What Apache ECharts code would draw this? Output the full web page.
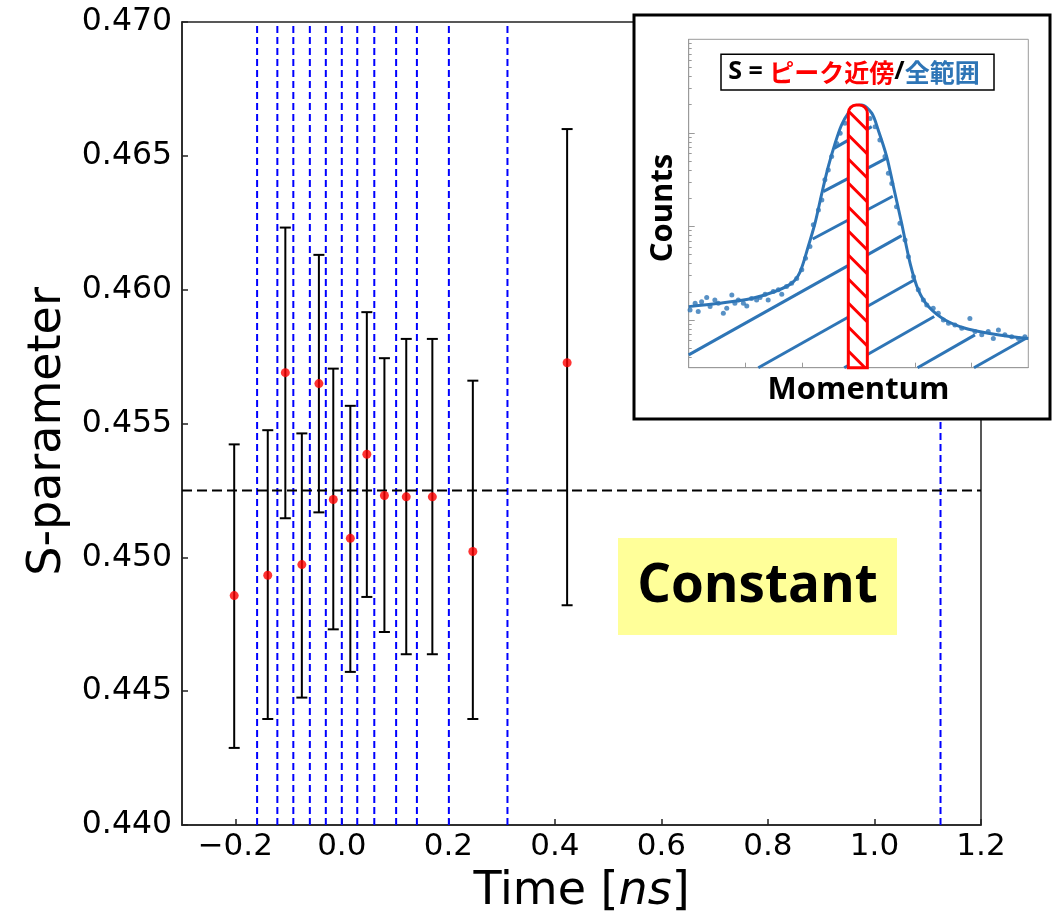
<!DOCTYPE html>
<html><head><meta charset="utf-8">
<script src="https://cdn.jsdelivr.net/npm/echarts@6/dist/echarts.min.js"></script>
<style>html,body{margin:0;padding:0;background:#fff}#c{width:1053px;height:920px}</style>
</head><body><div id="c"></div>
<script>
// ---------------- main plot data ----------------
const times   = [-0.202, -0.139, -0.106, -0.075, -0.043, -0.016, 0.016, 0.047, 0.080, 0.121, 0.170, 0.246, 0.423];
const sValues = [0.44857, 0.44933, 0.45690, 0.44973, 0.45649, 0.45216, 0.45071, 0.45385, 0.45231, 0.45226, 0.45226, 0.45022, 0.45727];
const sUpper  = [0.45422, 0.45475, 0.46232, 0.45463, 0.46130, 0.45705, 0.45566, 0.45916, 0.45744, 0.45816, 0.45816, 0.45660, 0.46600];
const sLower  = [0.44288, 0.44396, 0.45146, 0.44476, 0.45168, 0.44731, 0.44572, 0.44852, 0.44721, 0.44638, 0.44638, 0.44396, 0.44821];
const binEdges = [-0.159, -0.121, -0.091, -0.060, -0.030, 0.000, 0.029, 0.061, 0.102, 0.141, 0.201, 0.311, 1.124];
const meanS = 0.4525;
const xRange = [-0.3, 1.2];
const yRange = [0.44, 0.47];
const xTickValues = [-0.2, 0.0, 0.2, 0.4, 0.6, 0.8, 1.0, 1.2];

// ---------------- inset data (arbitrary units 0..100) ----------------
const curveX = [0, 8.7, 18.5, 25.4, 30.3, 32.8, 35.2, 37.2, 39.2, 41.1, 43.1, 45.0, 47.0, 49.0, 50.9, 53.9, 55.8, 58.3, 60.3, 62.7, 65.2, 67.6, 70.6, 75.5, 81.4, 88.2, 95.1, 100];
const curveY = [18.6, 19.6, 21.1, 23.2, 25.7, 29.2, 36.9, 44.0, 53.1, 61.2, 68.3, 73.9, 77.5, 79.5, 80.0, 77.5, 72.4, 64.3, 55.1, 44.0, 31.8, 23.7, 18.6, 14.5, 12.0, 10.5, 9.4, 8.9];
const dotsX = [0.4, 1.9, 2.8, 3.8, 5.3, 6.3, 7.7, 8.7, 10.2, 11.2, 12.7, 13.6, 14.6, 16.1, 17.1, 18.5, 20.0, 21.0, 22.5, 23.4, 24.9, 26.4, 27.4, 28.8, 30.3, 31.8,
               33.3, 34.4, 35.7, 36.7, 38.2, 39.2, 40.1, 41.1, 42.1, 43.6, 44.6, 46.0, 47.5,
               53.4, 54.9, 56.3, 57.8, 58.8, 59.8, 61.2, 62.2, 63.7, 64.7, 66.2, 67.6, 69.1, 70.1, 72.0, 73.5, 75.0, 76.5, 78.4, 80.4, 82.8, 84.3, 86.3, 88.2, 89.7, 91.2, 93.1, 95.1, 97.1, 99.0];
const dotsY = [17.6, 19.6, 17.1, 20.1, 21.4, 18.6, 20.6, 19.6, 16.6, 18.1, 22.1, 19.6, 20.6, 19.6, 18.8, 21.1, 20.6, 21.4, 22.4, 20.6, 23.2, 23.7, 22.4, 24.7, 25.7, 27.2,
               29.8, 33.3, 36.9, 43.5, 48.0, 51.1, 57.2, 60.2, 64.3, 68.3, 71.4, 74.4, 77.0,
               75.9, 73.4, 69.3, 64.3, 59.2, 56.1, 49.0, 44.0, 38.9, 33.8, 27.7, 23.7, 20.6, 19.1, 18.1, 16.6, 14.5, 13.5, 13.0, 12.0, 15.0, 11.0, 10.0, 11.0, 8.9, 11.5, 10.0, 9.4, 8.9, 9.4];
const hatchStartX = [42.8, 39.6, 36.5, 0.0, 20.5, 45.8, 67.4, 84.0];
const hatchStartY = [66.8, 53.6, 39.2, 3.9, 0.0, 0.0, 0.0, 0.0];
const hatchEndX   = [53.9, 58.3, 60.1, 62.7, 66.4, 72.3, 84.3, 99.6];
const hatchEndY   = [73.4, 63.8, 52.2, 40.2, 26.7, 15.6, 10.0, 9.1];
const peakBand = [47.0, 52.6, 80.0];   // left, right, top
const momentumTicks = [100/6, 200/6, 300/6, 400/6, 500/6];
const countMin = 3.09, countMax = 10000;
const countMajor = [10, 100, 1000];
const countMinor = [4,5,6,7,8,9, 20,30,40,50,60,70,80,90, 200,300,400,500,600,700,800,900, 2000,3000,4000,5000,6000,7000,8000,9000];

const toUnit = c => (Math.log10(c) - Math.log10(countMin)) / (Math.log10(countMax) - Math.log10(countMin)) * 100;

const BLUE = '#2e75b6';
const AX = '#222';
const GRAY = '#9a9a9a';

const chart = echarts.init(document.getElementById('c'), null, {renderer: 'canvas'});

const option = {
  animation: false,
  backgroundColor: '#fff',
  grid: [
    {left: 182, right: 72, top: 22, bottom: 92, show: true, borderColor: AX, borderWidth: 1.5, z: 0},
    {left: 688.7, top: 39.3, width: 339.6, height: 328.4, show: true, borderColor: GRAY, borderWidth: 1, backgroundColor: '#fff', z: 55}
  ],
  xAxis: [
    {
      type: 'value', gridIndex: 0, min: xRange[0], max: xRange[1],
      axisLine: {show: true, onZero: false, lineStyle: {color: AX, width: 1.5}},
      axisTick: {show: true, inside: true, length: 6, customValues: xTickValues, lineStyle: {color: AX, width: 1.5}},
      axisLabel: {customValues: xTickValues, margin: 6, fontSize: 31, fontFamily: 'DejaVu Sans', color: '#000',
        formatter: v => (v < -1e-9 ? '\u2212' : '') + Math.abs(v).toFixed(1)},
      splitLine: {show: false},
      name: '{n|Time [}{i|ns}{n|]}', nameLocation: 'middle', nameGap: 44,
      nameTextStyle: {rich: {
        n: {fontSize: 46, fontFamily: 'DejaVu Sans', color: '#000'},
        i: {fontSize: 46, fontFamily: 'DejaVu Sans', fontStyle: 'italic', color: '#000'}
      }}
    },
    {
      type: 'value', gridIndex: 1, min: 0, max: 100, z: 60,
      axisLine: {show: true, onZero: false, lineStyle: {color: GRAY, width: 1}},
      axisTick: {show: true, inside: true, length: 5, customValues: momentumTicks, lineStyle: {color: GRAY}},
      axisLabel: {show: false}, splitLine: {show: false},
      name: 'Momentum', nameLocation: 'middle', nameGap: 6.5,
      nameTextStyle: {fontFamily: 'Open Sans', fontWeight: 'bold', fontSize: 31, color: '#000'}
    }
  ],
  yAxis: [
    {
      type: 'value', gridIndex: 0, min: yRange[0], max: yRange[1], interval: 0.005,
      axisLine: {show: true, onZero: false, lineStyle: {color: AX, width: 1.5}},
      axisTick: {show: true, inside: true, length: 6, lineStyle: {color: AX, width: 1.5}},
      axisLabel: {margin: 10, fontSize: 31.5, fontFamily: 'DejaVu Sans', color: '#000', formatter: v => v.toFixed(3)},
      splitLine: {show: false},
      name: 'S-parameter', nameLocation: 'middle', nameGap: 109,
      nameTextStyle: {fontSize: 46, fontFamily: 'DejaVu Sans', color: '#000', padding: [0, 16, 0, 0]}
    },
    {
      type: 'value', gridIndex: 1, min: 0, max: 100, position: 'left', offset: 0, z: 60,
      axisLine: {show: true, onZero: false, lineStyle: {color: GRAY, width: 1}},
      axisTick: {show: true, inside: true, length: 6, customValues: countMajor.map(toUnit), lineStyle: {color: GRAY}},
      axisLabel: {show: false}, splitLine: {show: false},
      name: 'Counts', nameLocation: 'middle', nameGap: 10,
      nameTextStyle: {fontFamily: 'Open Sans', fontWeight: 'bold', fontSize: 31, color: '#000', padding: [0, 9, 0, 0]}
    },
    {
      type: 'value', gridIndex: 1, min: 0, max: 100, position: 'left', offset: 0, z: 60,
      axisLine: {show: false, onZero: false},
      axisTick: {show: true, inside: true, length: 3, customValues: countMinor.map(toUnit), lineStyle: {color: GRAY}},
      axisLabel: {show: false}, splitLine: {show: false}
    }
  ],
  series: [
    {
      type: 'custom', name: 'binEdges', xAxisIndex: 0, yAxisIndex: 0, z: 2,
      data: binEdges.map(v => [v]),
      encode: {x: 0},
      renderItem: function (params, api) {
        const a = api.coord([api.value(0), yRange[0]]);
        const b = api.coord([api.value(0), yRange[1]]);
        return {type: 'line', shape: {x1: a[0], y1: a[1], x2: b[0], y2: b[1]}, style: {stroke: '#0000ff', lineWidth: 2, lineDash: [7, 4]}};
      }
    },
    {
      type: 'custom', name: 'mean', xAxisIndex: 0, yAxisIndex: 0, z: 2,
      data: [[meanS]],
      encode: {y: 0},
      renderItem: function (params, api) {
        const a = api.coord([xRange[0], api.value(0)]);
        const b = api.coord([xRange[1], api.value(0)]);
        return {type: 'line', shape: {x1: a[0], y1: a[1], x2: b[0], y2: b[1]}, style: {stroke: '#000', lineWidth: 2, lineDash: [10, 5]}};
      }
    },
    {
      type: 'custom', name: 'errorbars', xAxisIndex: 0, yAxisIndex: 0, z: 3,
      data: times.map((t, i) => [t, sLower[i], sUpper[i]]),
      encode: {x: 0, y: [1, 2]},
      renderItem: function (params, api) {
        const x = api.value(0);
        const pLo = api.coord([x, api.value(1)]);
        const pHi = api.coord([x, api.value(2)]);
        const cw = 5.5;
        const st = {stroke: '#000', lineWidth: 2};
        return {type: 'group', children: [
          {type: 'line', shape: {x1: pLo[0], y1: pLo[1], x2: pHi[0], y2: pHi[1]}, style: st},
          {type: 'line', shape: {x1: pLo[0] - cw, y1: pLo[1], x2: pLo[0] + cw, y2: pLo[1]}, style: st},
          {type: 'line', shape: {x1: pHi[0] - cw, y1: pHi[1], x2: pHi[0] + cw, y2: pHi[1]}, style: st}
        ]};
      }
    },
    {
      type: 'scatter', name: 'S', xAxisIndex: 0, yAxisIndex: 0, z: 4,
      data: times.map((t, i) => [t, sValues[i]]),
      symbolSize: 9, itemStyle: {color: '#ff0000'}
    },
    // ---------- inset ----------
    {
      type: 'custom', name: 'hatch', xAxisIndex: 1, yAxisIndex: 1, z: 61,
      data: hatchStartX.map((x, i) => [x, hatchStartY[i], hatchEndX[i], hatchEndY[i]]),
      encode: {x: [0, 2], y: [1, 3]},
      renderItem: function (params, api) {
        const a = api.coord([api.value(0), api.value(1)]);
        const b = api.coord([api.value(2), api.value(3)]);
        return {type: 'line', shape: {x1: a[0], y1: a[1], x2: b[0], y2: b[1]}, style: {stroke: BLUE, lineWidth: 3}};
      }
    },
    {
      type: 'line', name: 'fit', xAxisIndex: 1, yAxisIndex: 1, z: 62,
      data: curveX.map((x, i) => [x, curveY[i]]),
      smooth: 0.3, showSymbol: false, lineStyle: {color: BLUE, width: 3}
    },
    {
      type: 'scatter', name: 'counts', xAxisIndex: 1, yAxisIndex: 1, z: 63,
      data: dotsX.map((x, i) => [x, dotsY[i]]),
      symbolSize: 5, itemStyle: {color: BLUE}
    },
    {
      type: 'custom', name: 'peak', xAxisIndex: 1, yAxisIndex: 1, z: 64,
      data: [peakBand],
      encode: {x: [0, 1], y: 2},
      renderItem: function (params, api) {
        const lb = api.coord([api.value(0), 0]);
        const rt = api.coord([api.value(1), api.value(2)]);
        const L = lb[0], B = lb[1], R = rt[0], T = rt[1];
        const w = R - L, rad = 8;
        const kids = [{type: 'rect', shape: {x: L, y: T, width: w, height: B - T, r: [rad, rad, 0, 0]}, style: {fill: '#fff', stroke: null}}];
        for (let y = T + 6; y < B; y += 24) {
          let x2 = R, y2 = y + w;
          if (y2 > B) { y2 = B; x2 = L + (B - y); }
          kids.push({type: 'line', shape: {x1: L, y1: y, x2: x2, y2: y2}, style: {stroke: '#ff0000', lineWidth: 3}});
        }
        kids.push({type: 'rect', shape: {x: L, y: T, width: w, height: B - T, r: [rad, rad, 0, 0]}, style: {fill: null, stroke: '#ff0000', lineWidth: 3}});
        return {type: 'group', children: kids};
      }
    }
  ],
  graphic: [
    {type: 'rect', z: 50, shape: {x: 634, y: 15, width: 416, height: 404}, style: {fill: '#fff', stroke: '#000', lineWidth: 3}},
    {type: 'rect', z: 70, shape: {x: 721, y: 54.3, width: 273, height: 35.7}, style: {fill: '#fff', stroke: '#000', lineWidth: 1.5}},
    {type: 'text', z: 71, x: 854, y: 72, style: {
      text: '{k|S = }{r|ピーク近傍}{k|/}{b|全範囲}',
      align: 'center', verticalAlign: 'middle',
      rich: {
        k: {fontFamily: 'Open Sans', fontWeight: 'bold', fontSize: 25, fill: '#000', color: '#000'},
        r: {fontFamily: 'Noto Sans CJK JP', fontWeight: 'bold', fontSize: 25, fill: '#ff0000', color: '#ff0000'},
        b: {fontFamily: 'Noto Sans CJK JP', fontWeight: 'bold', fontSize: 25, fill: BLUE, color: BLUE}
      }
    }},
    {type: 'rect', z: 20, shape: {x: 618, y: 538, width: 279, height: 97}, style: {fill: '#ffff99'}},
    {type: 'text', z: 21, x: 757.5, y: 587, style: {text: 'Constant', fontFamily: 'Open Sans', fontWeight: 'bold', fontSize: 53, fill: '#000', align: 'center', verticalAlign: 'middle'}}
  ]
};
chart.setOption(option);
</script>
</body></html>
